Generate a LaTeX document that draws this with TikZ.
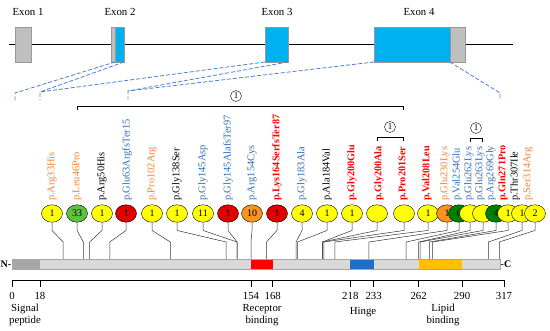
\documentclass[tikz,border=0pt]{standalone}
\usepackage{fontspec}
\setmainfont{Liberation Serif}
\usepackage{tikz}
\usetikzlibrary{positioning,shapes.geometric,calc}
\definecolor{exblue}{HTML}{00B0F0}
\definecolor{exgray}{HTML}{BFBFBF}
\definecolor{mapblue}{HTML}{4A7FD6}
\definecolor{mutorange}{HTML}{F4812E}
\definecolor{mutblue}{HTML}{2E6DB8}
\definecolor{mutred}{HTML}{FF0000}
\definecolor{cyel}{HTML}{FFFF00}
\definecolor{clgr}{HTML}{5CC43C}
\definecolor{cdgr}{HTML}{008000}
\definecolor{cred}{HTML}{E00000}
\definecolor{corg}{HTML}{F7941D}
\definecolor{hingeblue}{HTML}{1F6FC8}
\definecolor{lipidgold}{HTML}{FFC000}
\definecolor{barlight}{HTML}{D9D9D9}
\definecolor{bardark}{HTML}{A6A6A6}

\begin{document}
\begin{tikzpicture}[x=1pt, y=-1pt,
    exon/.style={draw=gray!80, fill=exblue, inner sep=0, outer sep=0, minimum height=35, anchor=north west},
    utr/.style={exon, fill=exgray},
    map/.style={draw=mapblue, dash pattern=on 4pt off 2pt, line width=0.8pt},
    mut/.style={rotate=90, anchor=west, inner sep=0, font=\fontsize{10.4}{10}\selectfont},
    mo/.style={mut, text=mutorange},
    mb/.style={mut, text=mutblue},
    mk/.style={mut, text=black},
    mr/.style={mut, text=mutred, font=\fontsize{10.2}{10}\selectfont\bfseries},
    count/.style={ellipse, draw, minimum width=21, minimum height=17.5, inner sep=0, font=\fontsize{10}{10}\selectfont},
    link/.style={draw=black!80, line width=0.5pt},
    grp/.style={circle, draw, inner sep=0.5pt, minimum size=11, font=\fontsize{9}{9}\selectfont},
    lbl/.style={font=\fontsize{10.8}{12}\selectfont, align=center, inner sep=0},
]
\useasboundingbox (0,0) rectangle (550,330);

\draw[line width=0.9pt] (9,44) -- (513,44);
\node[utr, minimum width=16] (ex1) at (15,27) {};
\node[utr, minimum width=4] (ex2u) at (111,27) {};
\node[exon, minimum width=9] (ex2) at (115,27) {};
\node[exon, minimum width=23] (ex3) at (265,27) {};
\node[exon, minimum width=76] (ex4) at (374,27) {};
\node[utr, minimum width=15] (ex4u) at (450,27) {};
\node[lbl] (lab1) at (28,12) {Exon 1};
\node[lbl] (lab2) at (120,12) {Exon 2};
\node[lbl] (lab3) at (277,12) {Exon 3};
\node[lbl] (lab4) at (419,12) {Exon 4};

\coordinate (d1) at (15,93);
\coordinate (d2) at (40,92);
\coordinate (d3) at (128,91);
\coordinate (d4) at (500,93);
\draw[map] (ex2.south west) -- (d1) -- ++(0,8);
\draw[map] (ex2.south east) -- (d2) -- ++(0,8);
\draw[map] (ex3.south west) -- (d2);
\draw[map] (ex3.south east) -- (d3) -- ++(0,8);
\draw[map] (ex4.south west) -- (d3);
\draw[map] (ex4.south east) -- (d4) -- ++(0,6);

\foreach \i/\lx/\cx/\res/\num/\cf/\ls/\lab in {
    1/52/52/33/1/cyel/mo/Arg33His,
    2/77/77/46/33/clgr/mo/Leu46Pro,
    3/102/102/50/1/cyel/mk/Arg50His,
    4/127/126/63/1/cred/mb/Glu63ArgfsTer15,
    5/152/152/102/1/cyel/mo/Pro102Arg,
    6/177/177/138/1/cyel/mk/Gly138Ser,
    7/203/203/145/11/cyel/mb/Gly145Asp,
    8/228/228/145/1/cred/mb/Gly145AlafsTer97,
    9/252/252/154/10/corg/mb/Arg154Cys,
    10/277/277/164/1/cred/mr/Lys164SerfsTer87,
    11/302/302/183/4/cyel/mb/Gly183Ala,
    12/327/327/184/1/cyel/mk/Ala184Val,
    13/352/352/200/1/cyel/mr/Gly200Glu,
    14/379/377/200/{}/cyel/mr/Gly200Ala,
    15/403/404/201/{}/cyel/mr/Pro201Ser,
    16/427/428/208/1/cyel/mr/Val208Leu,
    17/445/447/230/1/corg/mo/Glu230Lys,
    18/457/459/254/6/cdgr/mb/Val254Glu,
    19/469/470/262/{}/cyel/mb/Glu262Lys,
    20/480/483/263/{}/cyel/mb/Glu263Lys,
    21/491/496/269/4/cdgr/mb/Arg269Gly,
    22/503/508/271/1/cyel/mr/Gln271Pro,
    23/515/522/307/1/cyel/mk/Thr307Ile,
    24/528/535/314/2/cyel/mo/Ser314Arg}
{
    \node[\ls] (l\i) at (\lx,201) {p.\lab};
    \node[count, fill=\cf] (c\i) at (\cx,213.5) {\num};
    \coordinate (m\i) at ({12+1.552*\res},259);
}
\foreach \i in {1,...,24}
    \draw[link] (c\i.south) -- ++(0,8) -- ($(m\i)+(0,-17)$) -- (m\i);

\coordinate (b1l) at (77,106);
\coordinate (b1r) at (403,106);
\draw ($(b1l)+(0,4)$) -- (b1l) -- (b1r) -- ++(0,4);
\node[grp] (g1) at (236,96) {1};
\coordinate (b2l) at (377,137);
\coordinate (b2r) at (403,137);
\draw ($(b2l)+(0,4)$) -- (b2l) -- (b2r) -- ++(0,4);
\node[grp] (g2) at (390,127) {1};
\coordinate (b3l) at (470,138);
\coordinate (b3r) at (482,138);
\draw ($(b3l)+(0,4)$) -- (b3l) -- (b3r) -- ++(0,4);
\node[grp] (g3) at (476,128) {1};

\fill[barlight] (12,259) rectangle (500,269);
\fill[bardark] (12,259) rectangle (39.9,269);
\fill[red] (251,259) rectangle (272.7,269);
\fill[hingeblue] (350.3,259) rectangle (373.6,269);
\fill[lipidgold] (418.6,259) rectangle (462,269);
\draw[bardark] (12,259) rectangle (500,269);
\node[anchor=east, inner sep=0.5pt, font=\fontsize{10}{10}\selectfont\bfseries] (nterm) at (12,264) {N-};
\node[anchor=west, inner sep=0.5pt, font=\fontsize{10}{10}\selectfont\bfseries] (cterm) at (500,264) {-C};

\draw[line width=0.6pt] (12,280) -- (504,280);
\foreach \p in {0,18,154,168,218,233,262,290,317} {
    \draw[line width=0.6pt] ({12+1.552*\p},280) -- ++(0,7);
    \node[lbl] (t\p) at ({12+1.552*\p},296) {\p};
}
\node[lbl] (sig) at (25,315) {Signal\\peptide};
\node[lbl] (rec) at (262,315) {Receptor\\binding};
\node[lbl] (hng) at (363,312) {Hinge};
\node[lbl] (lip) at (443,315) {Lipid\\binding};
\end{tikzpicture}
\end{document}
